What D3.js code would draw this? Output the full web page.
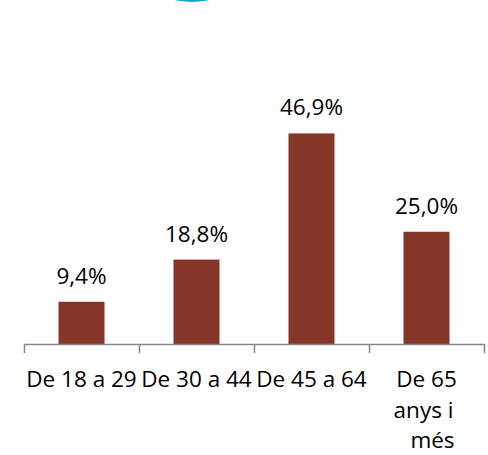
<!DOCTYPE html>
<html>
<head>
<meta charset="utf-8">
<script src="https://cdn.jsdelivr.net/npm/d3@7"></script>
<style>
  html, body { margin: 0; padding: 0; background: #fff; }
  svg { display: block; }
  text { font-family: "Open Sans", "DejaVu Sans", sans-serif; fill: #000; }
</style>
</head>
<body>
<svg id="chart" width="488" height="455"></svg>
<script>
const categories = ["De 18 a 29", "De 30 a 44", "De 45 a 64", "De 65 anys i més"];
const categoryLines = [["De 18 a 29"], ["De 30 a 44"], ["De 45 a 64"], ["De 65", "anys i", "més"]];
const values = [9.4, 18.8, 46.9, 25.0];
const valueLabels = ["9,4%", "18,8%", "46,9%", "25,0%"];

const W = 488, H = 455;
const axisY = 344, left = 24, right = 484;
const barColor = "#863628";
const axisColor = "#878787";
const fontSize = "22.5px";

const svg = d3.select("#chart");

// decorative blue sliver at top
svg.append("circle")
  .attr("cx", 192).attr("cy", -75.5).attr("r", 77.5)
  .attr("fill", "#1ba6d2");

const x = d3.scaleBand()
  .domain(categories)
  .range([left, right])
  .paddingInner(0.6)
  .paddingOuter(0.3);

const y = d3.scaleLinear()
  .domain([0, 50])
  .range([axisY, axisY - 224.5]);

// bars
svg.append("g").selectAll("rect")
  .data(values)
  .join("rect")
  .attr("x", (d, i) => x(categories[i]))
  .attr("y", d => y(d))
  .attr("width", x.bandwidth())
  .attr("height", d => y(0) - y(d))
  .attr("fill", barColor);

// value labels
svg.append("g").selectAll("text")
  .data(values)
  .join("text")
  .attr("x", (d, i) => x(categories[i]) + x.bandwidth() / 2)
  .attr("y", d => y(d) - 18)
  .attr("text-anchor", "middle")
  .attr("font-size", fontSize)
  .text((d, i) => valueLabels[i]);

// axis with ticks at category boundaries
const bounds = d3.scaleLinear().domain([0, categories.length]).range([left, right]);
const axisG = svg.append("g")
  .attr("transform", `translate(0,${axisY})`)
  .call(d3.axisBottom(bounds).ticks(categories.length).tickFormat("").tickSizeInner(9).tickSizeOuter(0));
axisG.select(".domain").attr("stroke", axisColor).attr("stroke-width", 1.5);
axisG.selectAll(".tick line").attr("stroke", axisColor).attr("stroke-width", 1.5);

// category labels
const catG = svg.append("g");
categoryLines.forEach((lines, i) => {
  const cx = x(categories[i]) + x.bandwidth() / 2;
  const t = catG.append("text")
    .attr("text-anchor", "middle")
    .attr("font-size", fontSize);
  lines.forEach((ln, j) => {
    t.append("tspan")
      .attr("x", cx)
      .attr("dx", j === 0 ? 0 : (j === lines.length - 1 ? 6 : -3))
      .attr("y", 387 + j * 30.5)
      .text(ln);
  });
});
</script>
</body>
</html>
